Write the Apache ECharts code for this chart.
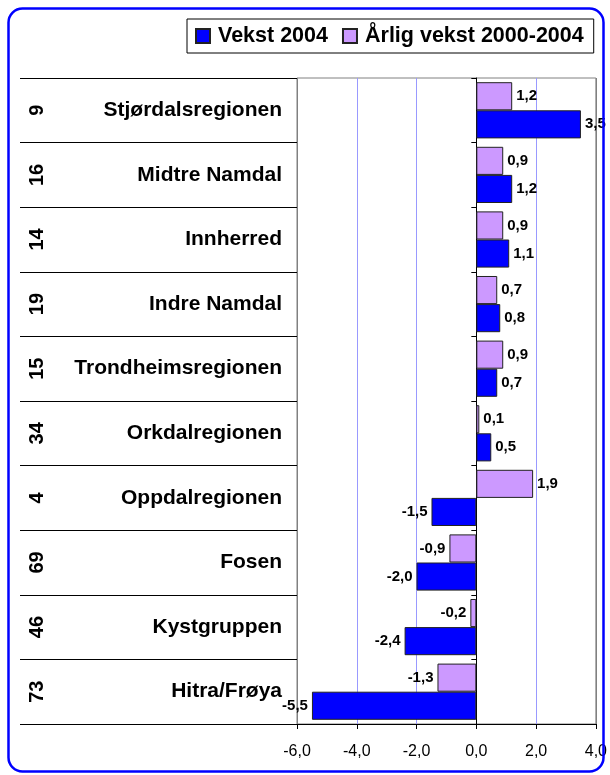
<!DOCTYPE html>
<html>
<head>
<meta charset="utf-8">
<script src="https://cdn.jsdelivr.net/npm/echarts@6/dist/echarts.min.js"></script>
<style>
  html, body { margin: 0; padding: 0; background: #fff; }
  #chart { width: 610px; height: 775px; }
</style>
</head>
<body>
<div id="chart"></div>
<script>
const regions = ["Stjørdalsregionen", "Midtre Namdal", "Innherred", "Indre Namdal", "Trondheimsregionen",
  "Orkdalregionen", "Oppdalregionen", "Fosen", "Kystgruppen", "Hitra/Frøya"];
const ranks = ["9", "16", "14", "19", "15", "34", "4", "69", "46", "73"];
const vekst2004 = [3.5, 1.2, 1.1, 0.8, 0.7, 0.5, -1.5, -2.0, -2.4, -5.5];
const arligVekst = [1.2, 0.9, 0.9, 0.7, 0.9, 0.1, 1.9, -0.9, -0.2, -1.3];
const xTicks = [-6, -4, -2, 0, 2, 4];

const font = "'Liberation Sans', Arial, sans-serif";
const fmt = (v) => v.toFixed(1).replace(".", ",");

const chart = echarts.init(document.getElementById("chart"));

function barLabel() {
  return {
    show: true,
    position: "right",
    distance: 4,
    fontFamily: font,
    fontSize: 15,
    fontWeight: "bold",
    color: "#000",
    formatter: (p) => fmt(p.value),
  };
}

function toItems(values) {
  return values.map((v) => ({
    value: v,
    label: { position: v < 0 ? "left" : "right" },
  }));
}

chart.setOption({
  animation: false,
  backgroundColor: "#fff",
  textStyle: { fontFamily: font },
  graphic: [
    {
      type: "rect",
      shape: { x: 8.5, y: 8.5, width: 595, height: 763, r: 14 },
      style: { fill: "none", stroke: "#0000ff", lineWidth: 2.5 },
      z: 10,
    },
  ],
  legend: {
    data: ["Vekst 2004", "Årlig vekst 2000-2004"],
    left: 187,
    top: 19,
    padding: [6, 10, 6, 8],
    itemGap: 14,
    itemWidth: 14,
    itemHeight: 14,
    borderColor: "#000",
    borderWidth: 1,
    icon: "rect",
    textStyle: {
      fontFamily: font,
      fontSize: 21.5,
      fontWeight: "bold",
      color: "#000",
      lineHeight: 22,
      padding: [0, 0, 0, 3],
    },
  },
  grid: [
    { left: 297, right: 13, top: 78, height: 646, show: true, borderColor: "#808080", borderWidth: 1, backgroundColor: "#fff" },
    { left: 20, width: 277, top: 78, height: 646, show: false },
  ],
  xAxis: [
    {
      type: "value",
      gridIndex: 0,
      min: xTicks[0],
      max: xTicks[xTicks.length - 1],
      interval: 2,
      axisLine: { show: true, onZero: false, lineStyle: { color: "#000" } },
      axisTick: { show: true, length: 5, lineStyle: { color: "#000" } },
      axisLabel: {
        margin: 20,
        fontFamily: font,
        fontSize: 16,
        color: "#000",
        formatter: (v) => fmt(v),
      },
      splitLine: {
        show: true,
        lineStyle: { color: ["#808080", "#9999ff", "#9999ff", "#000", "#9999ff", "#808080"], width: 1 },
      },
    },
    { type: "value", gridIndex: 1, min: 0, max: 1, show: false },
  ],
  yAxis: [
    {
      type: "category",
      gridIndex: 0,
      data: regions,
      inverse: true,
      position: "left",
      axisLine: { show: false, onZero: false },
      axisTick: { show: false },
      axisLabel: { margin: 15, fontFamily: font, fontSize: 21, fontWeight: "bold", color: "#000" },
      splitLine: { show: false },
    },
    {
      type: "category",
      gridIndex: 0,
      data: ranks,
      inverse: true,
      position: "left",
      offset: 240,
      axisLine: { show: false, onZero: false },
      axisTick: { show: false },
      axisLabel: { margin: 10, rotate: 90, fontFamily: font, fontSize: 20, fontWeight: "bold", color: "#000" },
      splitLine: { show: false },
    },
    {
      type: "category",
      gridIndex: 0,
      data: regions,
      inverse: true,
      position: "left",
      axisLine: { show: true, onZero: true, lineStyle: { color: "#000" } },
      axisTick: { show: true, length: 5, lineStyle: { color: "#000" } },
      axisLabel: { show: false },
      splitLine: { show: false },
    },
    {
      type: "category",
      gridIndex: 1,
      data: regions,
      inverse: true,
      axisLine: { show: false, onZero: false },
      axisTick: { show: false },
      axisLabel: { show: false },
      splitLine: { show: true, lineStyle: { color: "#000", width: 1 } },
    },
  ],
  series: [
    {
      name: "Årlig vekst 2000-2004",
      type: "bar",
      xAxisIndex: 0,
      yAxisIndex: 0,
      data: toItems(arligVekst),
      barGap: "0%",
      barCategoryGap: "13%",
      itemStyle: { color: "#cc99ff", borderColor: "#222", borderWidth: 1 },
      label: barLabel(),
    },
    {
      name: "Vekst 2004",
      type: "bar",
      xAxisIndex: 0,
      yAxisIndex: 0,
      data: toItems(vekst2004),
      barGap: "0%",
      barCategoryGap: "13%",
      itemStyle: { color: "#0000ff", borderColor: "#222", borderWidth: 1 },
      label: barLabel(),
    },
  ],
});
</script>
</body>
</html>
